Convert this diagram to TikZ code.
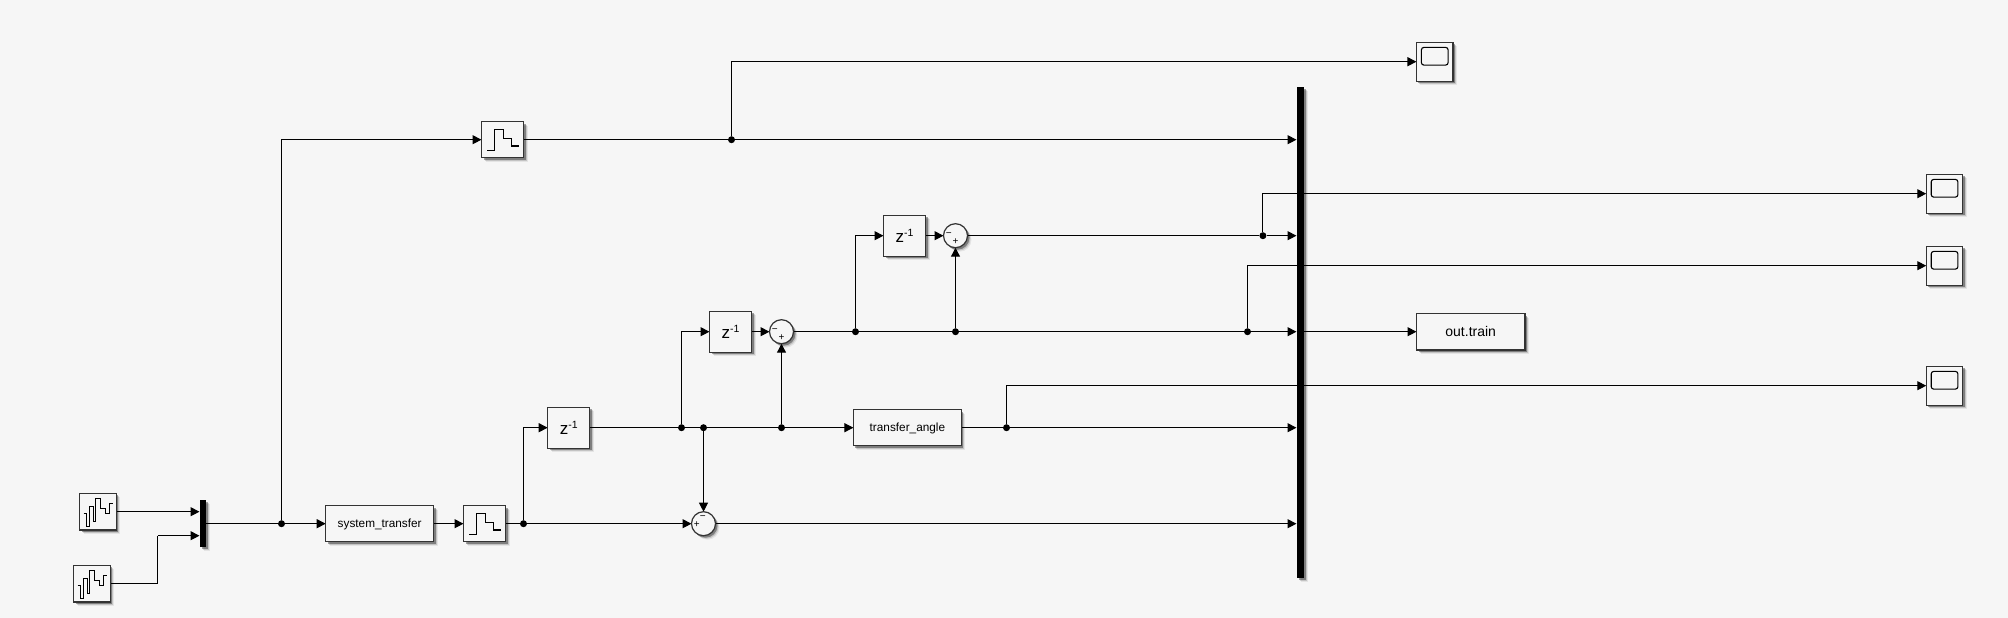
\documentclass[tikz,border=0pt]{standalone}
\usepackage{fontspec}
\setmainfont{Liberation Sans}
\usetikzlibrary{arrows.meta,backgrounds,shadows}

\definecolor{canvas}{HTML}{F6F6F6}
\definecolor{blockedge}{HTML}{333333}

\newcommand{\zinv}{\fontsize{17}{18}\selectfont z\raisebox{6pt}{\fontsize{10.5}{12}\selectfont -1}}

\tikzset{
  wire/.style={line width=1.1pt,-{Triangle[length=9pt,width=9pt]}},
  plainwire/.style={line width=1.1pt},
  softshadow/.style={
    general shadow={shadow xshift=4pt,shadow yshift=-4pt,fill=black,opacity=.07},
    general shadow={shadow xshift=3pt,shadow yshift=-3pt,fill=black,opacity=.14},
    general shadow={shadow xshift=2pt,shadow yshift=-2pt,fill=black,opacity=.35}},
  block/.style={draw=blockedge,line width=1.2pt,fill=canvas,inner sep=0pt,outer sep=0pt,softshadow,
    font=\fontsize{11.8}{14}\selectfont},
  wideblock/.style={block,minimum width=108pt,minimum height=36pt,text depth=0pt},
  stepblock/.style={block,minimum width=42pt,minimum height=36pt},
  delayblock/.style={block,minimum width=42pt,minimum height=41pt},
  sourceblock/.style={block,minimum width=36.5pt,minimum height=36.5pt},
  scopeblock/.style={block,minimum width=36.5pt,minimum height=39pt},
  sumblock/.style={block,circle,minimum size=24pt},
  sumsign/.style={inner sep=0pt,font=\fontsize{10}{10}\selectfont},
  busbar/.style={fill=black,inner sep=0pt,outer sep=0pt,softshadow},
  junction/.style={circle,fill=black,inner sep=0pt,minimum size=7pt},
  stairs/.pic={\draw[line width=1.1pt] (-15.3,11) -- (-8,11) -- (-8,-10) -- (1,-10) -- (1,-1.3)
    -- (9,-1.3) -- (9,6.3) -- (16.3,6.3);},
  noisy/.pic={\draw[line width=1pt] (-14.3,2) -- (-11,2) -- (-11,14.3) -- (-8.7,14.3) -- (-8.7,-5.7)
    -- (-4,-5.7) -- (-4,9.7) -- (-2,9.7) -- (-2,-13) -- (2.7,-13) -- (2.7,-3.5) -- (7.5,-3.5) -- (7.5,2)
    -- (11.3,2) -- (11.3,-8) -- (14.7,-8);},
  screen/.pic={\draw[line width=1.1pt,rounded corners=2.5pt] (-13.3,-14.3) rectangle (13.4,3.4);}
}

\begin{document}
\begin{tikzpicture}[x=1pt,y=-1pt]
\useasboundingbox (-0.2,-0.4) rectangle (2007.8,617.6);

% inputs
\node[sourceblock] (srcA) at (97.7,511.3) {};
\node[sourceblock] (srcB) at (91.7,583.3) {};
\pic at (srcA) {noisy};
\pic at (srcB) {noisy};
\node[busbar,minimum width=6.6pt,minimum height=46.6pt] (muxbar) at (202.6,523.3) {};

% plant
\node[wideblock] (sys) at (379.5,523.3) {system\_transfer};
\node[stepblock] (zohOut) at (484.3,523.3) {};
\node[stepblock] (zohIn) at (502.3,139.3) {};
\pic at (zohOut) {stairs};
\pic at (zohIn) {stairs};

% differences
\node[delayblock] (delayA) at (568.5,427.3) {\zinv};
\node[delayblock] (delayB) at (730.3,331.3) {\zinv};
\node[delayblock] (delayC) at (904.3,235.3) {\zinv};
\node[sumblock] (sumA) at (703.3,523.3) {};
\node[sumblock] (sumB) at (781.3,331.3) {};
\node[sumblock] (sumC) at (955.3,235.3) {};
\node[sumsign] (sumAplus) at (696.6,524) {+};
\node[sumsign] (sumAminus) at (702.6,517.6) {−};
\node[sumsign] (sumBminus) at (774.6,330.3) {−};
\node[sumsign] (sumBplus) at (781.3,337.3) {+};
\node[sumsign] (sumCminus) at (948.6,234.3) {−};
\node[sumsign] (sumCplus) at (955.3,241.3) {+};
\node[wideblock] (angle) at (907.2,427.3) {transfer\_angle};

% bus and outputs
\node[busbar,minimum width=7pt,minimum height=491pt] (bus) at (1299.8,332.2) {};
\node[block,minimum width=108.4pt,minimum height=36.4pt,font=\fontsize{14}{16}\selectfont] (out) at (1470.5,331.3) {out.train};
\node[scopeblock] (scopeA) at (1434.5,61.3) {};
\node[scopeblock] (scopeB) at (1944.3,193.3) {};
\node[scopeblock] (scopeC) at (1944.3,265.3) {};
\node[scopeblock] (scopeD) at (1944.3,385.3) {};
\pic at (scopeA) {screen};
\pic at (scopeB) {screen};
\pic at (scopeC) {screen};
\pic at (scopeD) {screen};

% branch points
\node[junction] (jMux) at (281.3,523.3) {};
\node[junction] (jZoh) at (523.3,523.3) {};
\node[junction] (jTop) at (731.3,139.3) {};
\node[junction] (jDelayB) at (681.3,427.3) {};
\node[junction] (jSumA) at (703.3,427.3) {};
\node[junction] (jSumB) at (781.3,427.3) {};
\node[junction] (jDelayC) at (855.3,331.3) {};
\node[junction] (jSumC) at (955.3,331.3) {};
\node[junction] (jScopeC) at (1247.3,331.3) {};
\node[junction] (jScopeB) at (1262.7,235.3) {};
\node[junction] (jScopeD) at (1006.3,427.3) {};
\coordinate (bendB) at (157.3,535.3);
\coordinate (muxB) at (muxbar.west |- bendB);

\begin{scope}[on background layer]
\fill[canvas] (-0.2,-0.4) rectangle (2007.8,617.6);
\draw[wire] (srcA) -- (srcA -| muxbar.west);
\draw[plainwire] (srcB.east) -| (bendB);
\draw[wire] (bendB) -- (muxB);
\draw[plainwire] (muxbar.east) -- (jMux);
\draw[wire] (jMux) -- (sys.west);
\draw[wire] (jMux) |- (zohIn.west);
\draw[wire] (sys.east) -- (zohOut.west);
\draw[plainwire] (zohOut.east) -- (jZoh);
\draw[wire] (jZoh) -- (sumA.west);
\draw[wire] (jZoh) |- (delayA.west);
\draw[plainwire] (delayA.east) -- (jDelayB);
\draw[plainwire] (jDelayB) -- (jSumA);
\draw[plainwire] (jSumA) -- (jSumB);
\draw[wire] (jSumB) -- (angle.west);
\draw[wire] (jDelayB) |- (delayB.west);
\draw[wire] (jSumA) -- (sumA.north);
\draw[wire] (jSumB) -- (sumB.south);
\draw[wire] (delayB.east) -- (sumB.west);
\draw[plainwire] (sumB.east) -- (jDelayC);
\draw[plainwire] (jDelayC) -- (jSumC);
\draw[plainwire] (jSumC) -- (jScopeC);
\draw[wire] (jDelayC) |- (delayC.west);
\draw[wire] (jSumC) -- (sumC.south);
\draw[wire] (delayC.east) -- (sumC.west);
\draw[plainwire] (sumC.east) -- (jScopeB);
\draw[plainwire] (angle.east) -- (jScopeD);
\draw[plainwire] (zohIn.east) -- (jTop);
\draw[wire] (jTop) |- (scopeA.west);
\draw[wire] (jTop) -- (jTop -| bus.west);
\draw[wire] (jScopeB) -- (jScopeB -| bus.west);
\draw[wire] (jScopeC) -- (jScopeC -| bus.west);
\draw[wire] (jScopeD) -- (jScopeD -| bus.west);
\draw[wire] (sumA.east) -- (sumA -| bus.west);
\draw[wire] (jScopeB) |- (scopeB.west);
\draw[wire] (jScopeC) |- (scopeC.west);
\draw[wire] (jScopeD) |- (scopeD.west);
\draw[wire] (out.west -| bus.east) -- (out.west);
\end{scope}
\end{tikzpicture}
\end{document}
